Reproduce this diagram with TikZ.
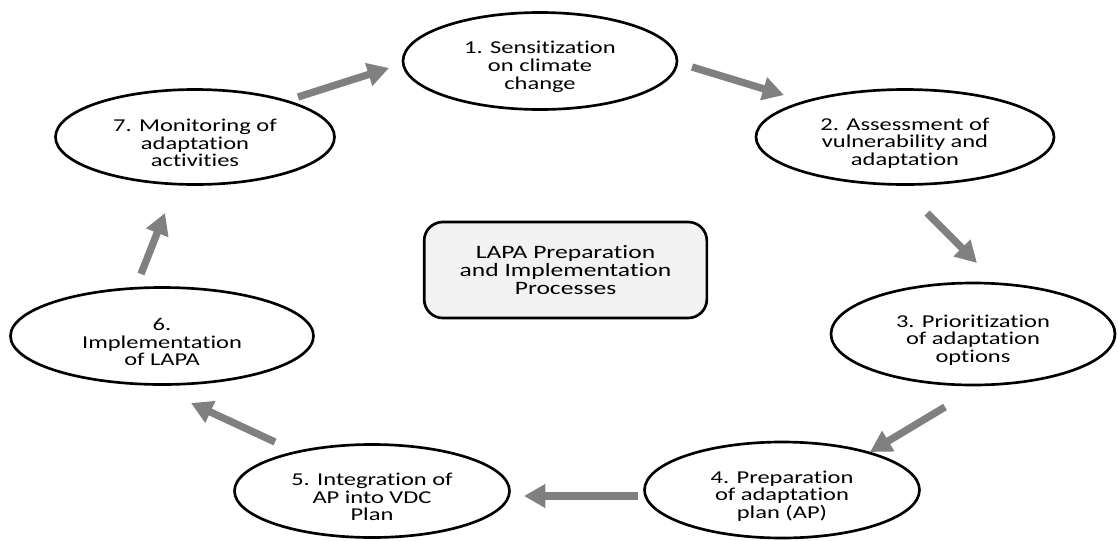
\documentclass[tikz,border=0pt]{standalone}
\usepackage{fontspec}
\setmainfont{Carlito}[FakeStretch=1.35,Ligatures=NoCommon,RawFeature={-liga;-clig;-dlig}]
\usetikzlibrary{shapes.geometric,arrows.meta}
\definecolor{arrowgray}{RGB}{128,128,128}
\definecolor{boxgray}{RGB}{242,242,242}
\tikzset{
  stage/.style={ellipse, draw=black, line width=2pt, fill=white, inner sep=0pt},
  stagetext/.style={inner sep=0pt, align=center, yshift=-4.5pt,
    font=\fontsize{13.6}{13.3}\selectfont},
  centerbox/.style={rectangle, rounded corners=14pt, draw=black, line width=2pt,
    fill=boxgray, inner sep=0pt, align=center, font=\fontsize{14.2}{13.8}\selectfont,
    minimum width=212pt, minimum height=72pt},
  flow/.style={draw=arrowgray, line width=5.5pt,
    -{Triangle[length=16pt,width=17pt]}},
}
\begin{document}
\begin{tikzpicture}[x=0.75pt,y=-0.75pt]
\useasboundingbox (0,0) rectangle (1118,540);
% stages
\node[stage, minimum width=205.5pt, minimum height=72.75pt] (s1) at (540,61) {};
\node[stagetext] (t1) at (s1) {1. Sensitization\\on climate\\change};
\node[stage, minimum width=223.5pt, minimum height=71.25pt] (s2) at (905,137) {};
\node[stagetext] (t2) at (s2) {2. Assessment of\\vulnerability and\\adaptation};
\node[stage, minimum width=213pt, minimum height=76.5pt] (s3) at (973,334) {};
\node[stagetext] (t3) at (s3) {3. Prioritization\\of adaptation\\options};
\node[stage, minimum width=206.25pt, minimum height=72pt] (s4) at (782,490) {};
\node[stagetext] (t4) at (s4) {4. Preparation\\of adaptation\\plan (AP)};
\node[stage, minimum width=206.25pt, minimum height=69.75pt] (s5) at (372,491) {};
\node[stagetext] (t5) at (s5) {5. Integration of\\AP into VDC\\Plan};
\node[stage, minimum width=227.25pt, minimum height=72.75pt] (s6) at (162,336) {};
\node[stagetext] (t6) at (s6) {6.\\Implementation\\of LAPA};
\node[stage, minimum width=209.25pt, minimum height=71.25pt] (s7) at (195,137) {};
\node[stagetext] (t7) at (s7) {7. Monitoring of\\adaptation\\activities};
% centre
\node[centerbox] (c) at (565.5,270)
  {LAPA Preparation\\and Implementation\\Processes};
% arrow end points
\coordinate (a12t) at (692,67);  \coordinate (a12h) at (784,95);
\coordinate (a23t) at (927,213); \coordinate (a23h) at (977,263);
\coordinate (a34t) at (945,407); \coordinate (a34h) at (870,452);
\coordinate (a45t) at (638,496); \coordinate (a45h) at (524,496);
\coordinate (a56t) at (275,442); \coordinate (a56h) at (191,403);
\coordinate (a67t) at (141,274); \coordinate (a67h) at (165,213);
\coordinate (a71t) at (298,97);  \coordinate (a71h) at (389,68);
\draw[flow] (a12t) -- (a12h);
\draw[flow] (a23t) -- (a23h);
\draw[flow] (a34t) -- (a34h);
\draw[flow] (a45t) -- (a45h);
\draw[flow] (a56t) -- (a56h);
\draw[flow] (a67t) -- (a67h);
\draw[flow] (a71t) -- (a71h);
\end{tikzpicture}
\end{document}
